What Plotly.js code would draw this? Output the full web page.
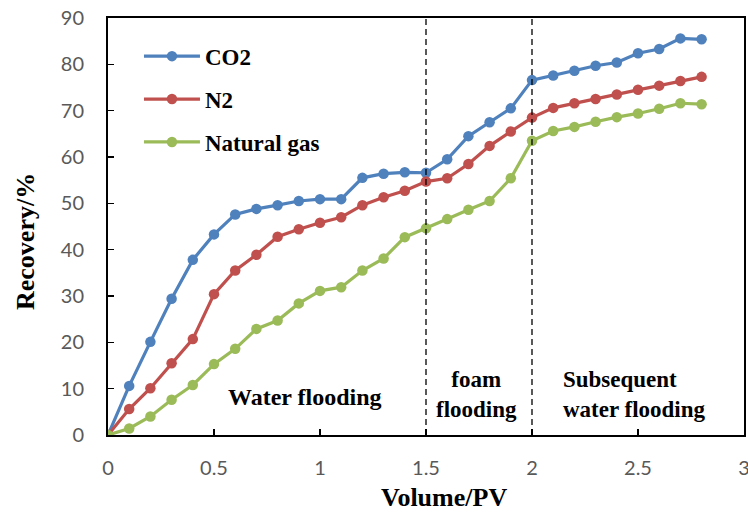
<!DOCTYPE html>
<html><head><meta charset="utf-8">
<script src="https://cdn.plot.ly/plotly-3.0.1.min.js"></script>
<style>html,body{margin:0;padding:0;background:#fff;}#chart{width:748px;height:513px;}</style>
</head><body><div id="chart"></div>
<script>
const volume = [0,0.1,0.2,0.3,0.4,0.5,0.6,0.7,0.8,0.9,1.0,1.1,1.2,1.3,1.4,1.5,1.6,1.7,1.8,1.9,2.0,2.1,2.2,2.3,2.4,2.5,2.6,2.7,2.8];
const co2 = [0,10.6,20.1,29.4,37.8,43.3,47.6,48.8,49.6,50.5,50.9,50.9,55.5,56.4,56.7,56.6,59.5,64.5,67.5,70.5,76.6,77.6,78.6,79.7,80.4,82.4,83.3,85.6,85.4];
const n2 = [0,5.6,10.1,15.5,20.7,30.4,35.5,38.9,42.8,44.4,45.8,47.0,49.6,51.3,52.7,54.7,55.4,58.5,62.4,65.5,68.5,70.6,71.6,72.5,73.5,74.5,75.4,76.4,77.3];
const naturalGas = [0,1.4,4.0,7.6,10.8,15.3,18.6,22.9,24.7,28.4,31.1,31.9,35.5,38.1,42.7,44.6,46.6,48.6,50.5,55.4,63.5,65.6,66.5,67.6,68.6,69.4,70.4,71.6,71.4];
const seriesNames = ['CO2','N2','Natural gas'];
const colors = ['#4F81BD','#C0504D','#9BBB59'];
const stageBounds = [1.5, 2.0];
const xTicks = [0,0.5,1,1.5,2,2.5,3];
const xTickText = ['0','0.5','1','1.5','2','2.5','3'];

const serif = 'Liberation Serif';
const sans = 'Lato';
const traces = [co2, n2, naturalGas].map((ys, i) => ({
  x: volume, y: ys, name: seriesNames[i], type: 'scatter', mode: 'lines+markers',
  line: {color: colors[i], width: 3.2},
  marker: {color: colors[i], size: 10.5},
  legendgroup: 'g' + i
}));
// invisible trace to carry the inside-tick x axis
traces.push({x: [0, 3], y: [0, 0], xaxis: 'x2', yaxis: 'y', mode: 'none', showlegend: false, hoverinfo: 'skip'});

const layout = {
  width: 748, height: 513,
  margin: {l: 108, r: 4, t: 18, b: 78},
  paper_bgcolor: '#fff', plot_bgcolor: '#fff',
  showlegend: true,
  legend: {x: 0.0487, y: 0.96, xanchor: 'left', yanchor: 'top', bgcolor: 'rgba(0,0,0,0)', itemwidth: 56,
    font: {family: serif, size: 23, color: '#000', weight: 'bold'}, tracegroupgap: 10},
  xaxis: {range: [0, 3], tickvals: xTicks, ticktext: xTickText, showgrid: false, zeroline: false,
    showline: true, linecolor: '#000', linewidth: 2, mirror: true,
    ticks: 'outside', ticklen: 14, tickcolor: 'rgba(0,0,0,0)', tickwidth: 1,
    ticklabeloverflow: 'allow',
    tickfont: {family: sans, size: 20, color: '#595959'}},
  xaxis2: {range: [0, 3], tickvals: xTicks, overlaying: 'x', anchor: 'y', side: 'bottom',
    showgrid: false, zeroline: false, showline: false, showticklabels: false,
    ticks: 'inside', ticklen: 6, tickcolor: '#000', tickwidth: 1.5},
  yaxis: {range: [0, 90], dtick: 10, showgrid: false, zeroline: false,
    showline: true, linecolor: '#000', linewidth: 2, mirror: true,
    ticks: 'inside', ticklen: 6, tickcolor: '#000', tickwidth: 1.5,
    ticklabelstandoff: 18,
    tickfont: {family: sans, size: 20, color: '#595959'}},
  shapes: stageBounds.map(xv => ({type: 'line', xref: 'x', yref: 'paper', x0: xv, x1: xv, y0: 0, y1: 1,
    line: {color: '#000', width: 1.3, dash: '6px,4px'}})),
  annotations: [
    {x: 0.929, y: 8.2, xref: 'x', yref: 'y', text: '<b>Water flooding</b>', showarrow: false,
      font: {family: serif, size: 24, color: '#000'}},
    {x: 1.74, y: 8.85, xref: 'x', yref: 'y', text: '<b>foam<br>flooding</b>', showarrow: false,
      font: {family: serif, size: 23, color: '#000'}},
    {x: 2.138, y: 8.85, xref: 'x', yref: 'y', xanchor: 'left', align: 'left', text: '<b>Subsequent<br>water flooding</b>', showarrow: false,
      font: {family: serif, size: 23, color: '#000'}},
    {x: 0, y: 0, xref: 'paper', yref: 'paper', xanchor: 'center', yanchor: 'middle', text: '<b>Volume/PV</b>', showarrow: false,
      font: {family: serif, size: 26, color: '#000'}},
    {x: 0, y: 0, xref: 'paper', yref: 'paper', xanchor: 'center', yanchor: 'middle', text: '<b>Recovery/%</b>', showarrow: false, textangle: -90,
      font: {family: serif, size: 26, color: '#000'}}
  ]
};
// place axis titles (pixel positions from the reference) in paper coordinates
const pw = 748 - 108 - 4, ph = 513 - 18 - 78;
layout.annotations[3].x = (444 - 108) / pw; layout.annotations[3].y = (435 - 497) / ph;
layout.annotations[4].x = (25 - 108) / pw; layout.annotations[4].y = (435 - 242) / ph;
Plotly.newPlot('chart', traces, layout, {displayModeBar: false, staticPlot: true});
</script></body></html>
